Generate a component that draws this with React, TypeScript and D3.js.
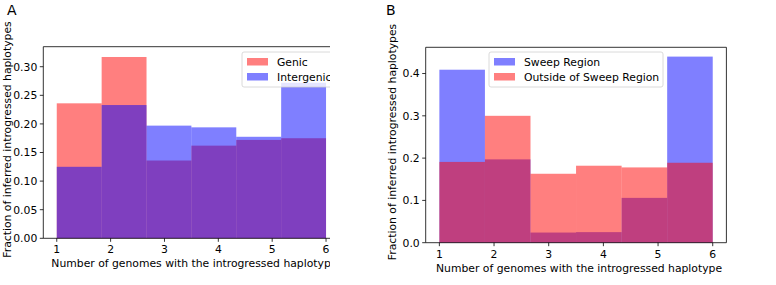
import React from "react";
import * as d3 from "d3";

const binEdges = [1, 1.8333, 2.6667, 3.5, 4.3333, 5.1667, 6];
const genic = [0.236, 0.317, 0.136, 0.162, 0.172, 0.175];
const intergenic = [0.125, 0.233, 0.197, 0.194, 0.1775, 0.272];
const sweep = [0.409, 0.197, 0.024, 0.025, 0.106, 0.44];
const outside = [0.191, 0.3, 0.163, 0.182, 0.178, 0.189];
const xTicks = [1, 2, 3, 4, 5, 6];
const yTicksA = [0, 0.05, 0.1, 0.15, 0.2, 0.25, 0.3];
const yTicksB = [0, 0.1, 0.2, 0.3, 0.4];

const FONT = "DejaVu Sans, sans-serif";
const FS = 10.8;
const RED = "rgba(255,0,0,0.5)";
const BLUE = "rgba(0,0,255,0.5)";

type Series = { values: number[]; color: string; label: string };

function Panel(props: {
  letter: string;
  letterX: number;
  left: number;
  right: number;
  top: number;
  bottom: number;
  ymax: number;
  yTicks: number[];
  yFmt: (v: number) => string;
  series: Series[];
  legendOrder: Series[];
  legend: { x: number; y: number; w: number };
  ylabelX: number;
  clipRight?: number;
  id: string;
}) {
  const { left, right, top, bottom } = props;
  const x = d3.scaleLinear().domain([0.75, 6.25]).range([left, right]);
  const y = d3.scaleLinear().domain([0, props.ymax]).range([bottom, top]);
  const clip = props.clipRight;
  return (
    <g>
      {clip !== undefined && (
        <defs>
          <clipPath id={props.id}>
            <rect x={0} y={0} width={clip} height={285} />
          </clipPath>
        </defs>
      )}
      <text x={props.letterX} y={15} fontFamily={FONT} fontSize={14}>
        {props.letter}
      </text>
      <g clipPath={clip !== undefined ? `url(#${props.id})` : undefined}>
        {props.series.map((s, si) => (
          <g key={si}>
            {s.values.map((v, i) => (
              <rect
                key={i}
                x={x(binEdges[i])}
                y={y(v)}
                width={x(binEdges[i + 1]) - x(binEdges[i])}
                height={y(0) - y(v)}
                fill={s.color}
              />
            ))}
          </g>
        ))}
        <line x1={left} x2={left} y1={top} y2={bottom} stroke="#000" strokeWidth={0.8} />
        <line x1={left} x2={right} y1={bottom} y2={bottom} stroke="#000" strokeWidth={0.8} />
        <line x1={left} x2={right} y1={top} y2={top} stroke="#000" strokeWidth={0.8} />
        <line x1={right} x2={right} y1={top} y2={bottom} stroke="#000" strokeWidth={0.8} />
        <g>
          <rect
            x={props.legend.x}
            y={props.legend.y}
            width={props.legend.w}
            height={35}
            rx={2}
            fill="rgba(255,255,255,0.8)"
            stroke="#d0d0d0"
            strokeWidth={0.8}
          />
          {props.legendOrder.map((s, i) => (
            <g key={i}>
              <rect
                x={props.legend.x + 5}
                y={props.legend.y + 6 + i * 15}
                width={21}
                height={7.5}
                fill={s.color}
              />
              <text
                x={props.legend.x + 35}
                y={props.legend.y + 13.5 + i * 15}
                fontFamily={FONT}
                fontSize={FS}
                fill="#000"
              >
                {s.label}
              </text>
            </g>
          ))}
        </g>
      </g>
      {props.yTicks.map((t) => (
        <g key={t}>
          <line x1={left - 3.5} x2={left} y1={y(t)} y2={y(t)} stroke="#000" strokeWidth={0.8} />
          <text
            x={left - 6}
            y={y(t)}
            dy="0.36em"
            textAnchor="end"
            fontFamily={FONT}
            fontSize={FS}
          >
            {props.yFmt(t)}
          </text>
        </g>
      ))}
      {xTicks.map((t) => (
        <g key={t}>
          <line x1={x(t)} x2={x(t)} y1={bottom} y2={bottom + 3.5} stroke="#000" strokeWidth={0.8} />
          <text
            x={x(t)}
            y={bottom + 15}
            textAnchor="middle"
            fontFamily={FONT}
            fontSize={FS}
          >
            {t}
          </text>
        </g>
      ))}
      <text
        x={(x(1) + x(6)) / 2 + 3}
        y={bottom + 29}
        textAnchor="middle"
        fontFamily={FONT}
        fontSize={FS}
        clipPath={clip !== undefined ? `url(#${props.id})` : undefined}
      >
        Number of genomes with the introgressed haplotype
      </text>
      <text
        transform={`translate(${props.ylabelX},${(top + bottom) / 2 - 3}) rotate(-90)`}
        textAnchor="middle"
        fontFamily={FONT}
        fontSize={FS}
      >
        Fraction of inferred introgressed haplotypes
      </text>
    </g>
  );
}

export default function App() {
  const genicS = { values: genic, color: RED, label: "Genic" };
  const interS = { values: intergenic, color: BLUE, label: "Intergenic" };
  const sweepS = { values: sweep, color: BLUE, label: "Sweep Region" };
  const outS = { values: outside, color: RED, label: "Outside of Sweep Region" };
  return (
    <svg width={776} height={285} style={{ display: "block", position: "absolute", left: 0, top: 0, background: "#fff" }}>
      <rect x={0} y={0} width={776} height={285} fill="#fff" />
      <Panel
        id="clipA"
        letter="A"
        letterX={7}
        left={43.3}
        right={339.5}
        top={46.7}
        bottom={238.3}
        ymax={0.335}
        yTicks={yTicksA}
        yFmt={(v) => v.toFixed(2)}
        series={[genicS, interS]}
        legendOrder={[genicS, interS]}
        legend={{ x: 242, y: 52, w: 100 }}
        ylabelX={11}
        clipRight={330}
      />
      <Panel
        id="clipB"
        letter="B"
        letterX={386}
        left={425.7}
        right={726.4}
        top={47.3}
        bottom={242.7}
        ymax={0.462}
        yTicks={yTicksB}
        yFmt={(v) => v.toFixed(1)}
        series={[sweepS, outS]}
        legendOrder={[sweepS, outS]}
        legend={{ x: 489, y: 52, w: 174 }}
        ylabelX={396}
      />
    </svg>
  );
}
